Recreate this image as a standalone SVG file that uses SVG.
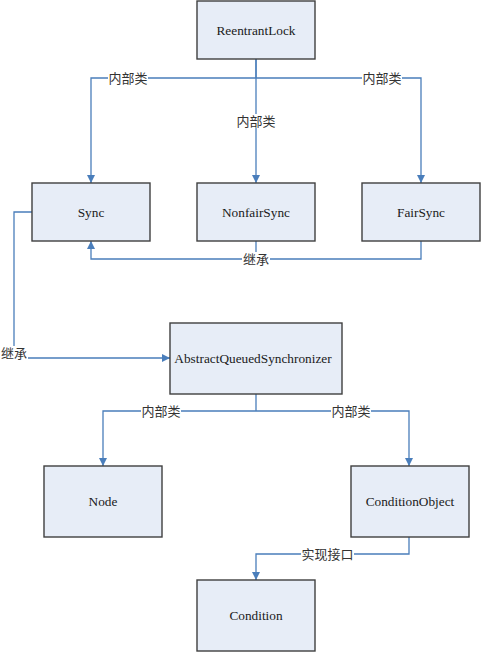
<svg xmlns="http://www.w3.org/2000/svg" width="481" height="652" viewBox="0 0 481 652">
<style>
.box{fill:#E7EDF7;stroke:#3F3F3F;stroke-width:1.4}
.t{font-family:"Liberation Serif","Times New Roman",serif;font-size:13.3px;fill:#1a1a1a;text-anchor:middle;dominant-baseline:central}
.c{fill:none;stroke:#4A7EBB;stroke-width:1.3}
.lb{font-family:"Liberation Serif","Noto Sans CJK SC",serif;font-size:13px;fill:#333;text-anchor:middle;dominant-baseline:central}
.bg{fill:#fff}
</style>
<defs>
<marker id="ar" viewBox="0 0 10 10" refX="10" refY="5" markerWidth="8" markerHeight="8" markerUnits="userSpaceOnUse" orient="auto"><path d="M0,0L10,5L0,10Z" fill="#4A7EBB"/></marker>
</defs>
<rect width="481" height="652" fill="#fff"/>
<g id="connectors">
<path class="c" d="M256,59V78M256,78H91V183" marker-end="url(#ar)"/>
<path class="c" d="M256,78H421V183" marker-end="url(#ar)"/>
<path class="c" d="M256,59V183" marker-end="url(#ar)"/>
<path class="c" d="M256,241V259M421,241V259H91V241" marker-end="url(#ar)"/>
<path class="c" d="M32,212H14V358H170" marker-end="url(#ar)"/>
<path class="c" d="M256,394V411M256,411H103V466" marker-end="url(#ar)"/>
<path class="c" d="M256,411H409V466" marker-end="url(#ar)"/>
<path class="c" d="M409,537V554H256V580" marker-end="url(#ar)"/>
<rect class="bg" x="108" y="71" width="40" height="14"/>
<text class="lb" x="128" y="78">内部类</text>
<rect class="bg" x="362" y="71" width="40" height="14"/>
<text class="lb" x="382" y="78">内部类</text>
<rect class="bg" x="236" y="114" width="40" height="14"/>
<text class="lb" x="256" y="121">内部类</text>
<rect class="bg" x="242" y="252" width="28" height="14"/>
<text class="lb" x="256" y="259">继承</text>
<rect class="bg" x="1" y="346" width="27" height="14"/>
<text class="lb" x="14" y="353">继承</text>
<rect class="bg" x="141" y="404" width="40" height="14"/>
<text class="lb" x="161" y="411">内部类</text>
<rect class="bg" x="331" y="404" width="40" height="14"/>
<text class="lb" x="351" y="411">内部类</text>
<rect class="bg" x="301" y="547" width="53" height="14"/>
<text class="lb" x="327.5" y="554">实现接口</text>
</g>
<g id="ReentrantLock"><rect class="box" x="197" y="1" width="118" height="58"/><text class="t" x="256" y="30">ReentrantLock</text></g>
<g id="Sync"><rect class="box" x="32" y="183" width="118" height="58"/><text class="t" x="91" y="212">Sync</text></g>
<g id="NonfairSync"><rect class="box" x="197" y="183" width="118" height="58"/><text class="t" x="256" y="212">NonfairSync</text></g>
<g id="FairSync"><rect class="box" x="362" y="183" width="118" height="58"/><text class="t" x="421" y="212">FairSync</text></g>
<g id="AbstractQueuedSynchronizer"><rect class="box" x="170" y="323" width="172" height="71"/><text class="t" x="253" y="358">AbstractQueuedSynchronizer</text></g>
<g id="Node"><rect class="box" x="44" y="466" width="118" height="71"/><text class="t" x="103" y="501">Node</text></g>
<g id="ConditionObject"><rect class="box" x="351" y="466" width="118" height="71"/><text class="t" x="410" y="501">ConditionObject</text></g>
<g id="Condition"><rect class="box" x="197" y="580" width="118" height="71"/><text class="t" x="256" y="615">Condition</text></g>
</svg>
